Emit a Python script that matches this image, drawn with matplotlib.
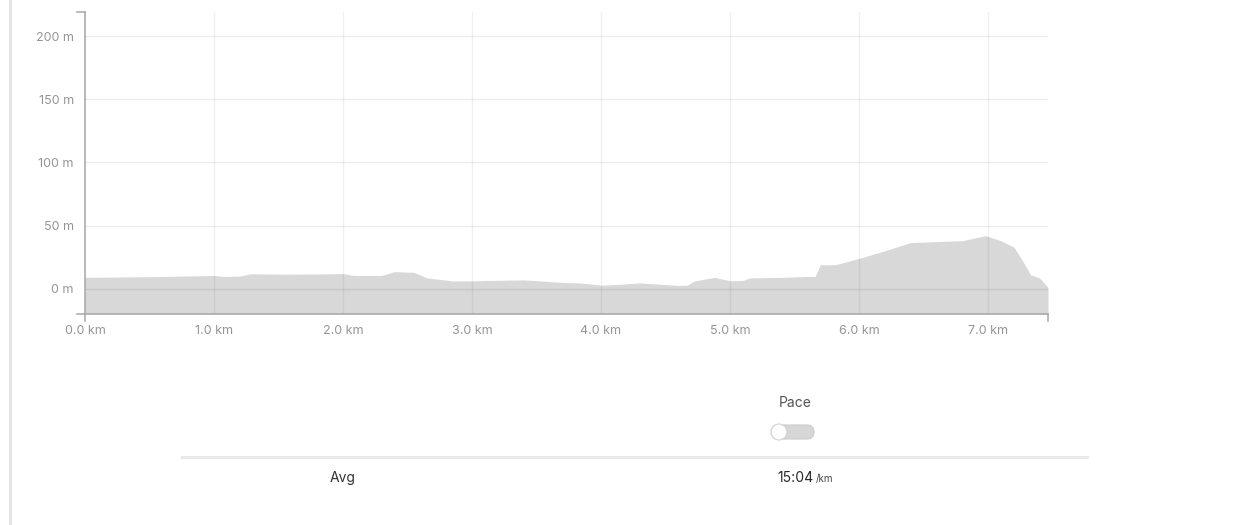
import matplotlib.pyplot as plt
from matplotlib.patches import FancyBboxPatch, Circle, Rectangle

# elevation profile along the route
dist_km = [0.0, 0.5, 1.0, 1.08, 1.2, 1.28, 1.6, 1.9, 2.0, 2.08, 2.3, 2.4, 2.55,
           2.65, 2.85, 3.0, 3.1, 3.4, 3.55, 3.7, 3.85, 4.0, 4.15, 4.3, 4.45,
           4.6, 4.67, 4.72, 4.88, 5.0, 5.1, 5.15, 5.4, 5.6, 5.66, 5.7, 5.82,
           6.0, 6.2, 6.4, 6.8, 6.98, 7.1, 7.2, 7.28, 7.33, 7.4, 7.465]
elev_m = [9, 9.5, 10.5, 9.7, 10, 11.8, 11.5, 11.8, 12, 10.5, 10.5, 13.5, 13,
          8.5, 6.2, 6.2, 6.5, 7, 6, 5, 4.5, 2.8, 3.5, 4.6, 3.6,
          2.6, 2.8, 6, 9, 6.3, 6.5, 8.5, 9, 9.7, 9.7, 19, 19,
          24, 30, 36.5, 38, 42, 38, 33, 20, 11, 8.5, 1]

y_ticks = [0, 50, 100, 150, 200]
x_ticks = [0, 1, 2, 3, 4, 5, 6, 7]
pace_label = "Pace"
avg_label = "Avg"
avg_pace = "15:04"
pace_unit = "/km"

plt.rcParams['font.family'] = ['Inter', 'DejaVu Sans']

W, H = 1239, 525
fig = plt.figure(figsize=(W / 100, H / 100), dpi=100)

ax = fig.add_axes([85 / W, 1 - 314 / H, (1048 - 85) / W, (314 - 12) / H])
ax.fill_between(dist_km, elev_m, -20, color='#d8d8d8', lw=0, zorder=1)
ax.set_xlim(0, dist_km[-1])
ax.set_ylim(-20, 219)

for v in y_ticks:
    ax.axhline(v, color='black', alpha=0.07, lw=1, zorder=2)
for v in x_ticks:
    ax.axvline(v, color='black', alpha=0.06, lw=1, zorder=2)

ax.set_yticks(y_ticks, labels=[f"{v} m" for v in y_ticks])
ax.set_xticks(x_ticks, labels=[f"{v:.1f} km" for v in x_ticks])
ax.tick_params(length=0, labelsize=9, labelcolor='#959595')
ax.tick_params(axis='y', pad=8)
ax.tick_params(axis='x', pad=8)
for side in ['top', 'right']:
    ax.spines[side].set_visible(False)
for side in ['left', 'bottom']:
    ax.spines[side].set_color('#a8a8a8')
    ax.spines[side].set_linewidth(1.1)

# outer ticks at the ends of both axes
tick_kw = dict(color='#a8a8a8', lw=1.1, clip_on=False, transform=ax.transAxes)
ax.plot([-8 / 963, 0], [1, 1], **tick_kw)
ax.plot([-8 / 963, 0], [0, 0], **tick_kw)
ax.plot([0, 0], [0, -7 / 302], **tick_kw)
ax.plot([1, 1], [0, -7 / 302], **tick_kw)

# overlay in pixel coordinates for the card decorations
ov = fig.add_axes([0, 0, 1, 1], zorder=-1)
ov.set_xlim(0, W)
ov.set_ylim(H, 0)
ov.axis('off')
ov.add_patch(Rectangle((8.5, 0), 3, H, color='#e3e3e8', lw=0))
ov.plot([182, 1087], [457, 457], color='#e8e8e8', lw=2)

ov2 = fig.add_axes([0, 0, 1, 1])
ov2.set_xlim(0, W)
ov2.set_ylim(H, 0)
ov2.axis('off')
ov2.text(795, 403, pace_label, ha='center', va='center', fontsize=10, color='#555555')
ov2.add_patch(FancyBboxPatch((772, 425), 42, 14, boxstyle='round,pad=0,rounding_size=7',
                             fc='#d6d6d6', ec='#cccccc', lw=0.8))
ov2.add_patch(Circle((779, 432), 8, fc='white', ec='#d0d0d0', lw=0.8))
ov2.text(343, 478, avg_label, ha='center', va='center', fontsize=10, color='#333333')
ov2.text(813, 478, avg_pace, ha='right', va='center', fontsize=10, color='#2a2a2a')
ov2.text(816, 479, pace_unit, ha='left', va='center', fontsize=7, color='#444444')

fig.savefig('out.png', dpi=100)
